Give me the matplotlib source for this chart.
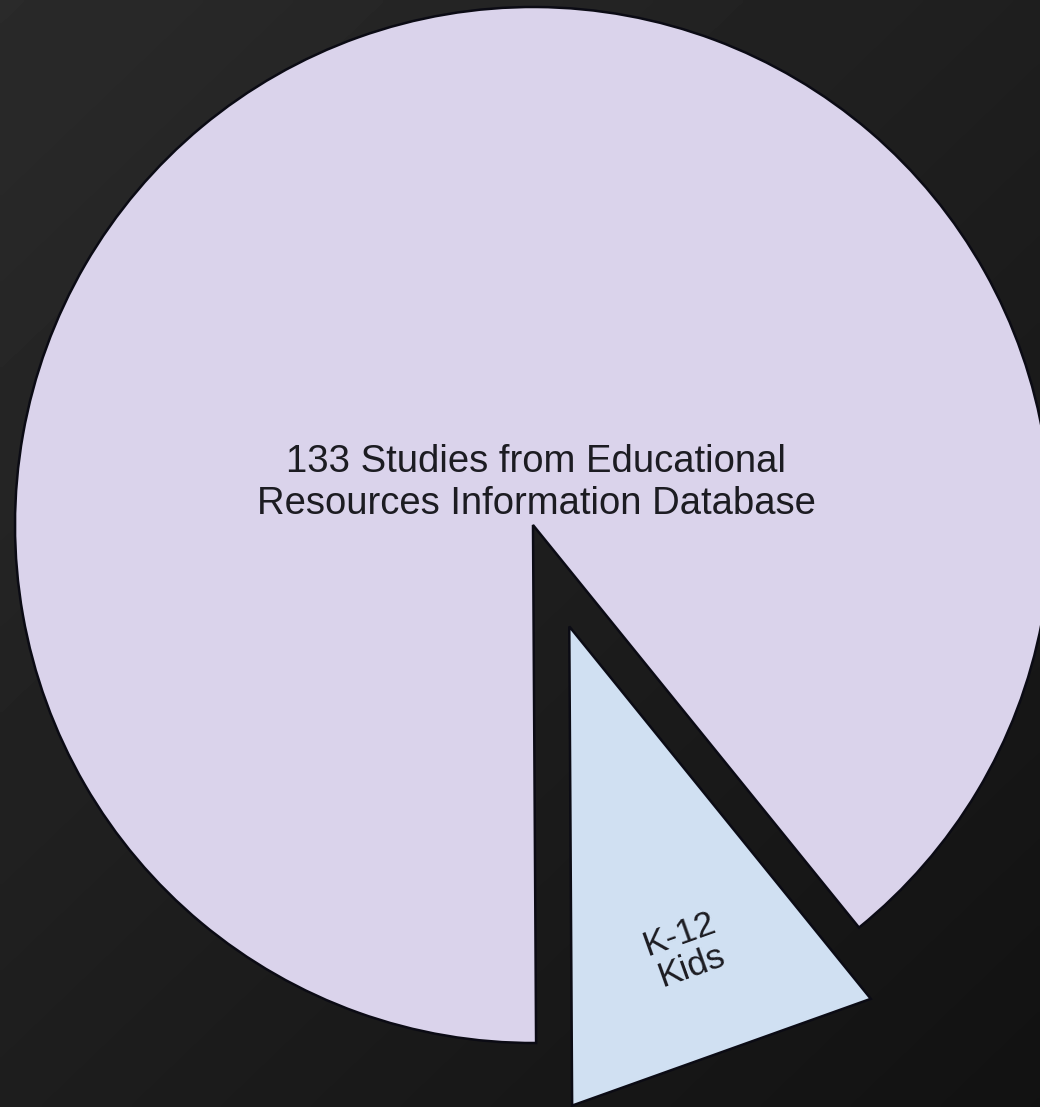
import matplotlib

matplotlib.use("Agg")
import matplotlib.pyplot as plt
from matplotlib.patches import Polygon
import numpy as np

# study counts per group
labels = ["133 Studies from Educational\nResources Information Database", "K-12\nKids"]
studies = [133, 16]
explode = [0.0, 0.208]

slice_colors = ["#dad3eb", "#d0e0f2"]
edge_color = "#0b0b14"
text_color = "#1c1c22"

# pixel layout of the canvas (1 pie radius = 518 px)
W, H = 1040, 1107
scale = 518.0
cx, cy = 533.0, 525.0


def draw_background(ax, xlim, ylim):
    # dark chalkboard-ish shading, lighter at the top left
    gx, gy = np.meshgrid(np.linspace(0, 1, 256), np.linspace(0, 1, 256))
    shade = 0.165 - 0.045 * gx - 0.05 * gy
    ax.imshow(
        shade,
        cmap="gray",
        vmin=0,
        vmax=1,
        extent=(xlim[0], xlim[1], ylim[0], ylim[1]),
        origin="upper",
        interpolation="bilinear",
        zorder=0,
    )


def graph():
    fig = plt.figure(figsize=(W / 100, H / 100), dpi=100)
    ax = fig.add_axes([0, 0, 1, 1])

    xlim = (-cx / scale, (W - cx) / scale)
    ylim = (-(H - cy) / scale, cy / scale)
    draw_background(ax, xlim, ylim)

    wedges, _ = ax.pie(
        studies,
        explode=explode,
        colors=slice_colors,
        startangle=-51.0,
        counterclock=True,
        radius=1.0,
        wedgeprops=dict(edgecolor=edge_color, linewidth=1.8),
    )

    # the small slice is drawn flat-edged (triangle) and a bit shorter
    k12 = wedges[1]
    k12.set_visible(False)
    c = np.array(k12.center)
    t1, t2 = np.radians(k12.theta1), np.radians(k12.theta2)
    r = 0.925 * k12.r
    tri = np.array(
        [
            c,
            c + r * np.array([np.cos(t1), np.sin(t1)]),
            c + r * np.array([np.cos(t2), np.sin(t2)]),
        ]
    )
    ax.add_patch(
        Polygon(
            tri,
            closed=True,
            facecolor=slice_colors[1],
            edgecolor=edge_color,
            linewidth=1.8,
            zorder=2,
        )
    )

    ax.text(
        0.006,
        0.081,
        labels[0],
        ha="center",
        va="center",
        fontsize=27.5,
        family="Liberation Sans",
        color=text_color,
        linespacing=1.2,
        zorder=3,
    )

    mid = 0.5 * (t1 + t2)
    lx = c[0] + 0.665 * k12.r * np.cos(mid)
    ly = c[1] + 0.665 * k12.r * np.sin(mid)
    ax.text(
        lx,
        ly,
        labels[1],
        ha="center",
        va="center",
        rotation=np.degrees(mid) + 90,
        rotation_mode="anchor",
        fontsize=25.5,
        family="Liberation Sans",
        color=text_color,
        linespacing=1.05,
        zorder=3,
    )

    ax.set_xlim(*xlim)
    ax.set_ylim(*ylim)
    ax.set_aspect("auto")
    ax.axis("off")

    fig.savefig("out.png", dpi=100, facecolor="#1b1b1b")


if __name__ == "__main__":
    graph()
